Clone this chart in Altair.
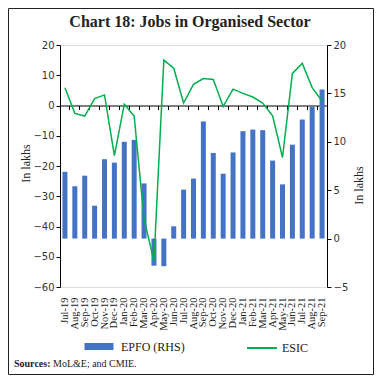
import altair as alt
import pandas as pd

months = ["Jul-19", "Aug-19", "Sep-19", "Oct-19", "Nov-19", "Dec-19", "Jan-20", "Feb-20",
          "Mar-20", "Apr-20", "May-20", "Jun-20", "Jul-20", "Aug-20", "Sep-20", "Oct-20",
          "Nov-20", "Dec-20", "Jan-21", "Feb-21", "Mar-21", "Apr-21", "May-21", "Jun-21",
          "Jul-21", "Aug-21", "Sep-21"]
epfo = [6.9, 5.4, 6.5, 3.4, 8.2, 7.85, 10.0, 10.2, 5.7, -2.8, -2.85, 1.27, 5.06, 6.2,
        12.1, 8.85, 6.7, 8.9, 11.1, 11.26, 11.2, 8.06, 5.6, 9.7, 12.3, 13.6, 15.4]
esic = [5.9, -2.6, -3.5, 2.3, 3.5, -16.6, 0.4, -3.5, -37.5, -51.5, 15.0, 12.3, 0.8, 7.0,
        8.9, 8.6, -0.3, 5.4, 4.0, 2.8, 0.8, -3.4, -17.2, 10.6, 13.9, 5.9, 1.5]
series_names = ["EPFO (RHS)", "ESIC"]
left_ticks = [-60, -50, -40, -30, -20, -10, 0, 10, 20]
right_ticks = [-5, 0, 5, 10, 15, 20]
title_text = "Chart 18: Jobs in Organised Sector"

df = pd.DataFrame({"month": months, "epfo": epfo, "esic": esic,
                   "s_bar": series_names[0], "s_line": series_names[1]})

W, H = 267, 242
PL, PT, PR, PB = 52, 37, 47, 88
BLUE = "#4472C4"
GREEN = "#00B050"
SERIF = "Liberation Serif"
SANS = "DejaVu Sans"

xscale = alt.Scale(paddingInner=0, paddingOuter=0)
zero_offset = -(H - H * 20 / 80)

base = alt.Chart(df)

bars = base.mark_bar(size=5).encode(
    x=alt.X("month:N", sort=months, title=None, scale=xscale,
            axis=alt.Axis(orient="bottom", domain=False, ticks=False, labelAngle=270,
                          labelAlign="right", labelBaseline="middle", labelFont=SERIF,
                          labelFontSize=10.5, labelColor="#222", labelPadding=10)),
    y=alt.Y("epfo:Q", scale=alt.Scale(domain=[-5, 20], nice=False, zero=False),
            axis=alt.Axis(orient="right", values=right_ticks, grid=False, title="In lakhs",
                          domainColor="black", tickColor="black", tickSize=4,
                          labelFont=SANS, labelFontSize=10, labelColor="#333",
                          titleFont=SERIF, titleFontSize=12, titleFontWeight="normal",
                          titleColor="#222", titleAngle=270, titleX=31, titleY=140,
                          titleAlign="center", titleBaseline="middle")),
    fill=alt.Fill("s_bar:N", scale=alt.Scale(domain=[series_names[0]], range=[BLUE]),
                  legend=alt.Legend(title=None, orient="none", legendX=21, legendY=283.5,
                                    symbolType="stroke", symbolSize=841,
                                    symbolStrokeWidth=7, symbolStrokeColor=BLUE,
                                    labelFont=SERIF, labelFontSize=12,
                                    labelColor="#222", labelOffset=4)),
)

line = base.mark_line(strokeWidth=1.5).encode(
    x=alt.X("month:N", sort=months, title=None, scale=xscale,
            axis=alt.Axis(orient="bottom", offset=zero_offset, labels=False, ticks=True,
                          tickSize=4, tickColor="black", domainColor="black",
                          bandPosition=0, grid=False)),
    y=alt.Y("esic:Q", scale=alt.Scale(domain=[-60, 20], nice=False, zero=False),
            axis=alt.Axis(orient="left", values=left_ticks, grid=False, title="In lakhs",
                          domainColor="black", tickColor="black", tickSize=4,
                          labelFont=SANS, labelFontSize=10, labelColor="#333",
                          titleFont=SERIF, titleFontSize=12, titleFontWeight="normal",
                          titleColor="#222", titleAngle=270, titleX=-35, titleY=118,
                          titleAlign="center", titleBaseline="middle")),
    stroke=alt.Stroke("s_line:N", scale=alt.Scale(domain=[series_names[1]], range=[GREEN]),
                      legend=alt.Legend(title=None, orient="none", legendX=186, legendY=287,
                                        symbolType="stroke", symbolSize=900,
                                        symbolStrokeWidth=2, labelFont=SERIF,
                                        labelFontSize=12, labelColor="#222", labelOffset=4)),
)

one = alt.Data(values=[{}])
frame = alt.Chart(one).mark_rect(filled=False, stroke="#222", strokeWidth=1).encode(
    x=alt.value(-PL + 0.5), x2=alt.value(W + PR - 0.5),
    y=alt.value(-PT + 0.5), y2=alt.value(H + PB - 0.5))
title = alt.Chart(one).mark_text(text=title_text, align="center", baseline="alphabetic",
                                 font=SERIF, fontSize=16, fontWeight="bold",
                                 color="#222").encode(x=alt.value(W / 2 - 3.5),
                                                      y=alt.value(-18))
src1 = alt.Chart(one).mark_text(text="Sources:", align="left", baseline="middle",
                                font=SERIF, fontSize=10, fontWeight="bold",
                                color="#222").encode(x=alt.value(-46), y=alt.value(319))
src2 = alt.Chart(one).mark_text(text="MoL&E; and CMIE.", align="left", baseline="middle",
                                font=SERIF, fontSize=10, color="#222").encode(
    x=alt.value(-7), y=alt.value(319))

chart = alt.layer(bars, line, frame, title, src1, src2).resolve_scale(
    y="independent"
).resolve_axis(x="independent").properties(
    width=W, height=H,
    autosize=alt.AutoSizeParams(type="none"),
    padding={"left": PL, "top": PT, "right": PR, "bottom": PB},
).configure_view(stroke=None).configure(background="white")

chart.save("out.html", embed_options={"renderer": "svg", "actions": False})
